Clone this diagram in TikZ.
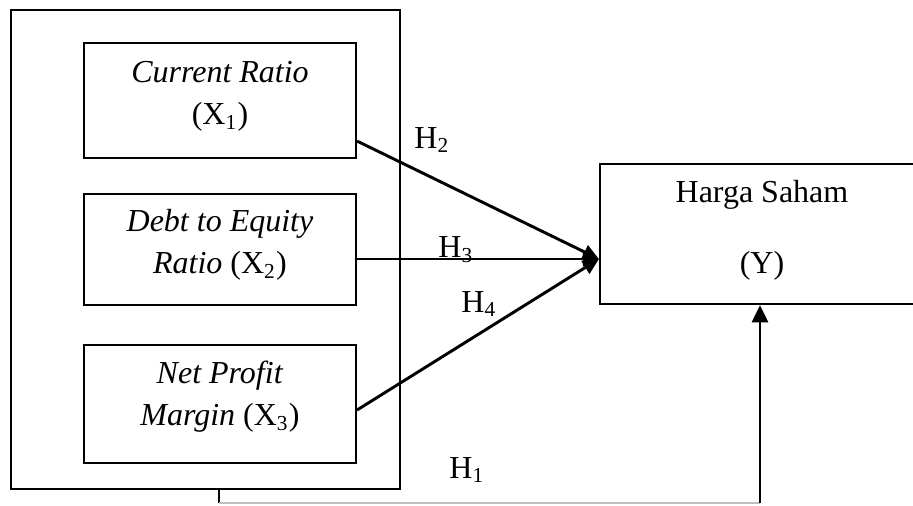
\documentclass[tikz,border=0pt]{standalone}
\usepackage{fontspec}
\setmainfont{Liberation Serif}
\usetikzlibrary{arrows.meta}
\begin{document}
\begin{tikzpicture}[x=0.375pt,y=-0.375pt,
  box/.style={draw, line width=0.8pt, inner sep=0pt, minimum width=#1},
  txt/.style={align=center, inner sep=0pt, font=\fontsize{12}{15.8}\selectfont},
  conn/.style={line width=1.1pt, -{Triangle[length=6pt,width=5.5pt]}},
  hlab/.style={inner sep=0pt, font=\fontsize{12}{14}\selectfont}]
\useasboundingbox (0,0) rectangle (913,505);
\begin{scope}
\clip (0,0) rectangle (913,505);
% boxes
\node[box=389*0.375pt, minimum height=479*0.375pt] (outer) at (205.5,249.5) {};
\node[box=272*0.375pt, minimum height=115*0.375pt] (x1) at (220,100.5) {};
\node[box=272*0.375pt, minimum height=111*0.375pt] (x2) at (220,249.5) {};
\node[box=272*0.375pt, minimum height=118*0.375pt] (x3) at (220,404) {};
\node[box=330*0.375pt, minimum height=140*0.375pt] (y) at (765,234) {};
% texts
\node[txt] (t1) at (220,96.5) {\textit{Current Ratio}\\(X\textsubscript{1})};
\node[txt] (t2) at (220,245) {\textit{Debt to Equity}\\\textit{Ratio} (X\textsubscript{2})};
\node[txt] (t3) at (220,396.5) {\textit{Net Profit}\\\textit{Margin} (X\textsubscript{3})};
\node[txt] (ty1) at (762,195) {Harga Saham};
\node[txt] (ty2) at (762,266) {(Y)};
% connectors
\coordinate (tip) at ([yshift=-25*0.375pt]y.west);
\draw[conn] ([yshift=18*0.375pt]x1.south east) -- (tip);
\draw[conn] ([yshift=-9.5*0.375pt]x2.east) -- (tip);
\draw[conn] ([yshift=-6*0.375pt]x3.east) -- (tip);
\coordinate (b1) at (219,503);
\coordinate (b2) at (760,503);
\draw[line width=0.8pt] (b1 |- outer.south) -- (b1);
\draw[line width=0.5pt, black!25] (b1) -- (b2);
\draw[line width=1.1pt, -{Triangle[length=6.5pt,width=6pt]}] (b2) -- (b2 |- y.south);
% labels
\node[hlab] (h2) at (432,140) {H\textsubscript{2}};
\node[hlab] (h3) at (456,250) {H\textsubscript{3}};
\node[hlab] (h4) at (479,304) {H\textsubscript{4}};
\node[hlab] (h1) at (467,470) {H\textsubscript{1}};
\end{scope}
\end{tikzpicture}
\end{document}
